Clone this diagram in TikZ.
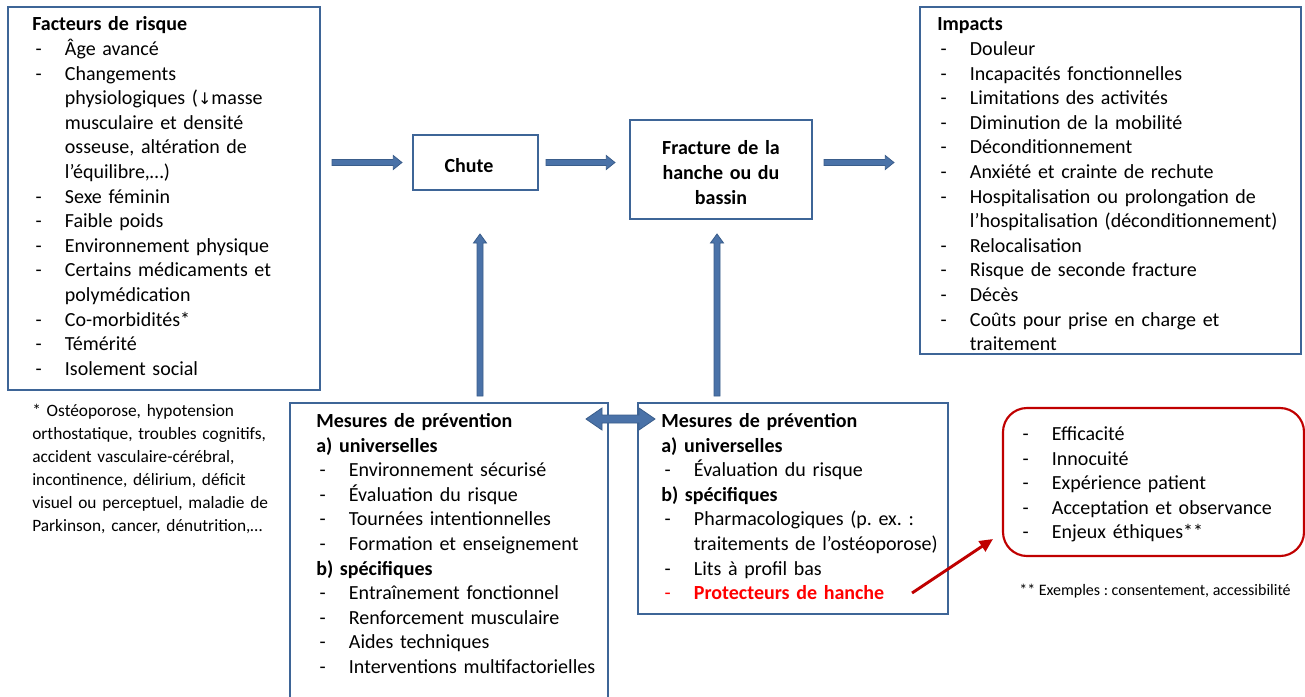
\documentclass[tikz,border=0pt]{standalone}
\usepackage{fontspec}
\setmainfont{Carlito}
\newfontfamily\symfont{DejaVu Sans}
\usetikzlibrary{calc,fit,arrows.meta}
\definecolor{boxblue}{HTML}{3E6597}
\definecolor{arrfill}{HTML}{4A72A8}
\definecolor{arrline}{HTML}{3A5D8B}
\definecolor{darkred}{HTML}{C00000}
\definecolor{brightred}{HTML}{FF0000}
\frenchspacing
\newcommand\dsh{\makebox[24.5pt][l]{\hspace{2.5pt}-}}
\newcommand\ind{\hspace*{24.5pt}}
% horizontal block arrow from #1 to #2 (same y as #1)
\newcommand\harrow[2]{\draw[barrow] let \p1=(#1),\p2=(#2) in
  (\x1,\y1+2.25pt) -- (\x2-6.5pt,\y1+2.25pt) -- (\x2-6.5pt,\y1+5.25pt) -- (\x2,\y1)
  -- (\x2-6.5pt,\y1-5.25pt) -- (\x2-6.5pt,\y1-2.25pt) -- (\x1,\y1-2.25pt) -- cycle;}
% upward block arrow from #1 (bottom) to #2 (top)
\newcommand\uarrow[2]{\draw[barrow] let \p1=(#1),\p2=(#2) in
  (\x1-2.25pt,\y1) -- (\x1-2.25pt,\y2-6.75pt) -- (\x1-4.9pt,\y2-6.75pt) -- (\x1,\y2)
  -- (\x1+4.9pt,\y2-6.75pt) -- (\x1+2.25pt,\y2-6.75pt) -- (\x1+2.25pt,\y1) -- cycle;}
% double horizontal block arrow
\newcommand\dharrow[2]{\draw[barrow] let \p1=(#1),\p2=(#2) in
  (\x1,\y1) -- (\x1+12pt,\y1+8.25pt) -- (\x1+12pt,\y1+3pt) -- (\x2-12pt,\y1+3pt)
  -- (\x2-12pt,\y1+8.25pt) -- (\x2,\y1) -- (\x2-12pt,\y1-8.25pt) -- (\x2-12pt,\y1-3pt)
  -- (\x1+12pt,\y1-3pt) -- (\x1+12pt,\y1-8.25pt) -- cycle;}
\begin{document}
\begin{tikzpicture}[x=0.75pt,y=-0.75pt,
  box/.style={draw=boxblue,line width=1.6pt,inner sep=0pt},
  redbox/.style={draw=darkred,line width=1.6pt,rounded corners=18pt,inner sep=0pt},
  barrow/.style={fill=arrfill,draw=arrline,line width=0.6pt},
  redarrow/.style={draw=darkred,line width=2.2pt,-{Triangle[length=10pt,width=9pt]}},
  txt/.style={anchor=north west,inner sep=0pt,text width=300pt,align=left,
    font=\fontsize{15}{18.45}\selectfont},
  note/.style={anchor=north west,inner sep=0pt,text width=300pt,align=left,
    font=\fontsize{13}{17.25}\selectfont},
  ctxt/.style={inner sep=0pt,text width=150pt,align=center,
    font=\fontsize{15}{18.45}\selectfont\bfseries}]
\useasboundingbox[fill=white] (0,0) rectangle (1305,696);
\clip (0,0) rectangle (1305,696);

% boxes
\node[box,fit={(8,7) (320,390)}] (fr) {};
\node[box,fit={(413,135) (538,190)}] (chute) {};
\node[box,fit={(630,120) (812,219)}] (frac) {};
\node[box,fit={(920,7) (1301,354)}] (imp) {};
\node[box,fit={(290,403) (608,710)}] (prevL) {};
\node[box,fit={(638,403) (948,614)}] (prevR) {};
\node[redbox,fit={(1003,408) (1304,556)}] (crit) {};

% texts
\node[txt] (frtxt) at (32,13.5) {\strut\textbf{Facteurs de risque}\\
\dsh Âge avancé\\
\dsh Changements\\
\ind physiologiques ({\symfont\fontsize{12}{12}\selectfont ↓}masse\\
\ind musculaire et densité\\
\ind osseuse, altération de\\
\ind l’équilibre,…)\\
\dsh Sexe féminin\\
\dsh Faible poids\\
\dsh Environnement physique\\
\dsh Certains médicaments et\\
\ind polymédication\\
\dsh Co-morbidités*\\
\dsh Témérité\\
\dsh Isolement social};

\node[note] (frnote) at (32,400) {\strut * Ostéoporose, hypotension\\
orthostatique, troubles cognitifs,\\
accident vasculaire-cérébral,\\
incontinence, délirium, déficit\\
visuel ou perceptuel, maladie de\\
Parkinson, cancer, dénutrition,…};

\node[font=\fontsize{15}{18.45}\selectfont\bfseries,anchor=base,inner sep=0pt] (chutetxt) at (469,172) {Chute};

\node[ctxt,anchor=north] (fractxt) at (721,137.5) {\strut Fracture de la\\hanche ou du\\bassin};

\node[txt] (imptxt) at (937,13.5) {\strut\textbf{Impacts}\\
\dsh Douleur\\
\dsh Incapacités fonctionnelles\\
\dsh Limitations des activités\\
\dsh Diminution de la mobilité\\
\dsh Déconditionnement\\
\dsh Anxiété et crainte de rechute\\
\dsh Hospitalisation ou prolongation de\\
\ind l’hospitalisation (déconditionnement)\\
\dsh Relocalisation\\
\dsh Risque de seconde fracture\\
\dsh Décès\\
\dsh Coûts pour prise en charge et\\
\ind traitement};

\node[txt] (prevLtxt) at (316,410) {\strut\textbf{Mesures de prévention}\\
\textbf{a) universelles}\\
\dsh Environnement sécurisé\\
\dsh Évaluation du risque\\
\dsh Tournées intentionnelles\\
\dsh Formation et enseignement\\
\textbf{b) spécifiques}\\
\dsh Entraînement fonctionnel\\
\dsh Renforcement musculaire\\
\dsh Aides techniques\\
\dsh Interventions multifactorielles};

\node[txt] (prevRtxt) at (661,410) {\strut\textbf{Mesures de prévention}\\
\textbf{a) universelles}\\
\dsh Évaluation du risque\\
\textbf{b) spécifiques}\\
\dsh Pharmacologiques (p. ex. :\\
\ind traitements de l’ostéoporose)\\
\dsh Lits à profil bas\\
{\color{brightred}\dsh\textbf{Protecteurs de hanche}}};

\node[txt] (crittxt) at (1019,423) {\strut\dsh Efficacité\\
\dsh Innocuité\\
\dsh Expérience patient\\
\dsh Acceptation et observance\\
\dsh Enjeux éthiques**};

\node[font=\fontsize{12}{14}\selectfont,anchor=base west,inner sep=0pt] (critnote) at (1019,595) {** Exemples : consentement, accessibilité};

% connectors
\coordinate (a1s) at ($(fr.east |- chute.west)+(11,0)$);
\coordinate (a1e) at ($(chute.west)+(-10,0)$);
\coordinate (a2s) at ($(chute.east)+(7,0)$);
\coordinate (a2e) at ($(frac.west |- chute.west)+(-14,0)$);
\coordinate (a3s) at ($(frac.east |- chute.west)+(11,0)$);
\coordinate (a3e) at ($(imp.west |- chute.west)+(-25,0)$);
\harrow{a1s}{a1e}
\harrow{a2s}{a2e}
\harrow{a3s}{a3e}

\coordinate (v1s) at (480,396);
\coordinate (v1e) at (480,234);
\coordinate (v2s) at (717,396);
\coordinate (v2e) at (717,234);
\uarrow{v1s}{v1e}
\uarrow{v2s}{v2e}

\coordinate (d1) at (586,419);
\coordinate (d2) at (655,419);
\dharrow{d1}{d2}

\coordinate (r1) at (912,593);
\coordinate (r2) at (993,539);
\draw[redarrow] (r1) -- (r2);
\end{tikzpicture}
\end{document}
